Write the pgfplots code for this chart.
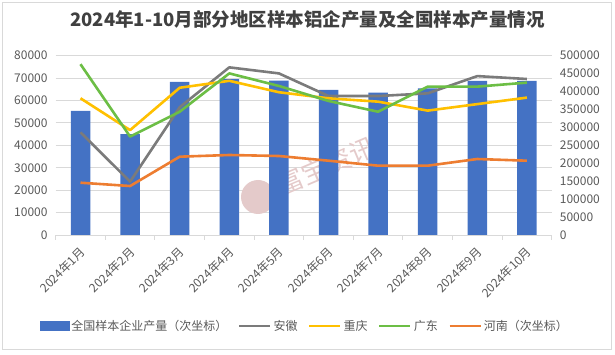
\documentclass[border=0pt]{standalone}
\usepackage{fontspec}
\setmainfont{Noto Sans CJK SC}
\usepackage{pgfplots}
\pgfplotsset{compat=1.18}

\definecolor{cBar}{HTML}{4472C4}
\definecolor{cGray}{HTML}{7B7B7B}
\definecolor{cYel}{HTML}{FFC000}
\definecolor{cGrn}{HTML}{6CBE45}
\definecolor{cOrg}{HTML}{ED7D31}
\definecolor{cTxt}{HTML}{595959}
\definecolor{cTitle}{HTML}{404040}
\definecolor{cGrid}{HTML}{D9D9D9}
\definecolor{cWm}{HTML}{E4CACA}

\pgfplotsset{
  base/.style={
    scale only axis, width=496bp, height=179.3bp,
    at={(55.7bp,120bp)}, anchor=south west,
    xmin=-0.5, xmax=9.5,
    ymin=0,
    tick label style={font=\fontsize{12bp}{14bp}\selectfont, text=cTxt},
    /pgf/number format/assume math mode=true,
    scaled y ticks=false,
    yticklabel style={/pgf/number format/fixed, /pgf/number format/1000 sep={}},
    major tick length=0pt,
  },
}

\begin{document}
\begin{tikzpicture}
\path[use as bounding box] (0,0) rectangle (615bp,355bp);
\draw[cGrid, line width=0.9bp] (2bp,6bp) rectangle (611bp,353bp);
\node[font=\fontsize{18.5bp}{21bp}\selectfont\bfseries, text=cTitle] at (307.5bp,335bp) {2024年1-10月部分地区样本铝企产量及全国样本产量情况};

% axis A: grid, left ticks, x labels
\begin{axis}[base,
  ymax=80000, ytick={0,10000,...,80000},
  axis y line*=left, y axis line style={draw=none},
  axis x line*=bottom, x axis line style={cGrid, line width=0.9bp},
  ymajorgrids, grid style={cGrid, line width=0.9bp},
  xtick={0,...,9},
  xticklabels={2024年1月,2024年2月,2024年3月,2024年4月,2024年5月,2024年6月,2024年7月,2024年8月,2024年9月,2024年10月},
  xticklabel style={xshift=3bp, yshift=-14bp, rotate=45, anchor=east, inner sep=1bp},
  minor xtick={-0.5,0.5,...,9.5},
  minor tick length=5bp, tick align=outside,
  minor tick style={cGrid, line width=0.9bp},
  yticklabel style={anchor=east, inner sep=0pt, xshift=-8bp},
]
\addplot[draw=none] coordinates {(0,0)};
\end{axis}

% watermark
\fill[cWm] (258bp,158bp) circle (17bp);
\node[rotate=23, text=cWm, font=\fontsize{26bp}{28bp}\selectfont] at (327bp,189bp) {富宝资讯};

% axis B: secondary axis, bars + Henan
\begin{axis}[base,
  ymax=500000, ytick={0,50000,...,500000},
  axis y line*=right, y axis line style={draw=none},
  axis x line=none,
  yticklabel style={anchor=west, inner sep=0pt, xshift=8bp},
]
\addplot[ybar, bar width=19.5bp, fill=cBar, draw=none] coordinates {
(0,345800) (1,281600) (2,426700) (3,435000) (4,430300)
(5,404400) (6,396800) (7,409100) (8,429500) (9,429500)};
\addplot[cOrg, line width=2.6bp, line join=round] coordinates {
(0,145800) (1,136600) (2,218400) (3,223100) (4,220300)
(5,207200) (6,193300) (7,193300) (8,211900) (9,207200)};
\end{axis}

% axis C: primary lines + legend
\begin{axis}[base,
  ymax=80000, hide axis,
  legend columns=-1,
  legend style={at={(0.5026,-0.5075)}, anchor=center, draw=none, fill=none,
    font=\fontsize{12bp}{14bp}\selectfont, text=cTxt,
    nodes={inner sep=2bp},
    /tikz/every even column/.append style={column sep=8.5bp}},
  legend image code/.code={\draw[#1] (0bp,0bp) -- (31bp,0bp);},
]
\addlegendimage{legend image code/.code={\fill[cBar] (0bp,-4.5bp) rectangle (29bp,4.5bp);}}
\addlegendentry{全国样本企业产量（次坐标）}
\addplot[cGray, line width=2.6bp, line join=round] coordinates {
(0,45800) (1,23800) (2,57000) (3,74800) (4,72100)
(5,62000) (6,62000) (7,63200) (8,70900) (9,69600)};
\addlegendentry{安徽}
\addplot[cYel, line width=2.6bp, line join=round] coordinates {
(0,61000) (1,46800) (2,65700) (3,68800) (4,63700)
(5,61000) (6,59500) (7,55500) (8,58400) (9,61300)};
\addlegendentry{重庆}
\addplot[cGrn, line width=2.6bp, line join=round] coordinates {
(0,76200) (1,43900) (2,55000) (3,72100) (4,66500)
(5,59800) (6,55000) (7,66200) (8,66200) (9,68000)};
\addlegendentry{广东}
\addlegendimage{cOrg, line width=2.6bp}
\addlegendentry{河南（次坐标）}
\end{axis}
\end{tikzpicture}
\end{document}
